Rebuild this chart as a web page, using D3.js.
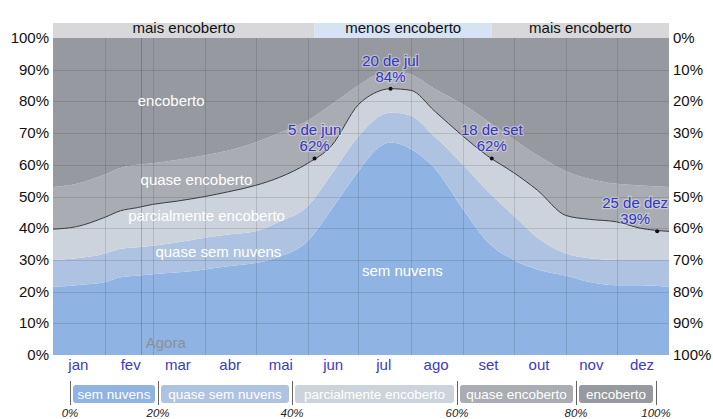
<!DOCTYPE html>
<html lang="pt">
<head>
    <meta charset="UTF-8">
    <title>Nebulosidade ao longo do ano</title>
    <script src="https://d3js.org/d3.v7.min.js"></script>
    <style>
        body { margin: 0; background: #fff; }
        svg text { font-family: "Liberation Sans", Arial, sans-serif; }
    </style>
</head>
<body>
    <div id="chart"></div>

    <script>
        // datas (ano sem bissexto)
        const dias = ["01-01", "01-15", "02-01", "02-10", "02-20", "03-01", "03-15", "04-01", "04-15",
            "05-01", "05-15", "06-01", "06-15", "07-01", "07-10", "07-20", "08-01", "08-15",
            "09-01", "09-15", "10-01", "10-15", "11-01", "11-15", "12-01", "12-15", "12-31"];

        // limites acumulados (%) de cada categoria
        const limSemNuvens      = [21.5, 22, 23, 24.5, 25, 25.5, 26, 27, 28, 29, 31, 36, 46, 58, 64, 67, 65, 59, 46, 36, 30, 27, 25, 23, 22, 22, 21.5];
        const limQuaseSemNuvens = [30, 30.5, 32, 33.5, 34, 34.5, 35.5, 37, 38, 39, 42, 47, 57, 69, 74, 76.5, 75.5, 69, 60, 52, 44, 37, 32, 30.5, 30, 30, 30];
        const limParcial        = [39.7, 40.5, 43.5, 45.5, 46.5, 47.5, 48.5, 50, 51.5, 53.5, 56, 60.5, 66, 79, 82.5, 84, 83.5, 77, 69, 63, 57.5, 52, 44, 42.8, 42, 40, 39];
        const limQuaseEncoberto = [53, 54, 57, 59, 60, 60.5, 61.5, 63, 64.5, 67, 70, 74, 79, 85, 88, 89.5, 88.5, 84, 79, 74, 68, 63, 58, 55.5, 54, 53.5, 53];

        const categorias = ["sem nuvens", "quase sem nuvens", "parcialmente encoberto", "quase encoberto", "encoberto"];
        const cores = ["#8fb3e2", "#aec3e1", "#cdd3dc", "#a9acb2", "#96999f"];
        const limitesLegenda = ["0%", "20%", "40%", "60%", "80%", "100%"];

        const meses = ["jan", "fev", "mar", "abr", "mai", "jun", "jul", "ago", "set", "out", "nov", "dez"];

        // faixa do topo: estação mais / menos encoberta
        const estacoes = [
            { nome: "mais encoberto", ini: "01-01", fim: "06-05", cor: "#d8d8da" },
            { nome: "menos encoberto", ini: "06-05", fim: "09-18", cor: "#d5e3f4" },
            { nome: "mais encoberto", ini: "09-18", fim: "12-31", cor: "#d8d8da" }
        ];

        // pontos anotados na linha preta
        const destaques = [
            { dia: "06-05", valor: 62, texto: "5 de jun", dx: 0 },
            { dia: "07-20", valor: 84, texto: "20 de jul", dx: 0 },
            { dia: "09-18", valor: 62, texto: "18 de set", dx: 0 },
            { dia: "12-25", valor: 39, texto: "25 de dez", dx: -22 }
        ];

        const agora = "02-22";

        const width = 713, height = 419;
        const esq = 53, dir = 669, topo = 38, base = 355;

        const parse = d3.timeParse("%Y-%m-%d");
        const data = s => parse("2023-" + s);

        const x = d3.scaleTime()
            .domain([data("01-01"), parse("2024-01-01")])
            .range([esq, dir]);
        const y = d3.scaleLinear().domain([0, 100]).range([base, topo]);

        const svg = d3.select("#chart").append("svg")
            .attr("width", width)
            .attr("height", height);

        // faixa superior
        const faixa = svg.append("g");
        estacoes.forEach(e => {
            const x0 = x(data(e.ini)), x1 = e.fim === "12-31" ? dir : x(data(e.fim));
            faixa.append("rect")
                .attr("x", x0).attr("y", 23)
                .attr("width", x1 - x0).attr("height", topo - 23)
                .attr("fill", e.cor);
            faixa.append("text")
                .attr("x", (x0 + x1) / 2).attr("y", 33)
                .attr("text-anchor", "middle")
                .attr("font-size", 15)
                .attr("fill", "#111")
                .text(e.nome);
        });

        // camadas empilhadas
        const pontos = dias.map((d, i) => ({
            t: d === "12-31" ? parse("2024-01-01") : data(d),
            v: [0, limSemNuvens[i], limQuaseSemNuvens[i], limParcial[i], limQuaseEncoberto[i], 100]
        }));

        const curva = d3.curveMonotoneX;
        categorias.forEach((c, k) => {
            const area = d3.area()
                .x(d => x(d.t))
                .y0(d => y(d.v[k]))
                .y1(d => y(d.v[k + 1]))
                .curve(curva);
            svg.append("path")
                .datum(pontos)
                .attr("d", area)
                .attr("fill", cores[k]);
        });

        // grade
        const grade = svg.append("g").attr("stroke", "rgba(0,0,0,0.12)").attr("stroke-width", 1);
        d3.range(10, 100, 10).forEach(p => {
            grade.append("line")
                .attr("x1", esq).attr("x2", dir)
                .attr("y1", Math.round(y(p)) + 0.5).attr("y2", Math.round(y(p)) + 0.5);
        });
        x.ticks(d3.timeMonth.every(1)).slice(1, 12).forEach(m => {
            grade.append("line")
                .attr("x1", Math.round(x(m)) + 0.5).attr("x2", Math.round(x(m)) + 0.5)
                .attr("y1", topo).attr("y2", base);
        });

        // linha "agora"
        svg.append("line")
            .attr("x1", Math.round(x(data(agora))) + 0.5).attr("x2", Math.round(x(data(agora))) + 0.5)
            .attr("y1", topo).attr("y2", base)
            .attr("stroke", "rgba(0,0,0,0.2)");
        svg.append("text")
            .attr("x", x(data(agora)) + 5).attr("y", 348)
            .attr("font-size", 15)
            .attr("fill", "#8a909a")
            .text("Agora");

        // linha preta (limite de parcialmente encoberto)
        svg.append("path")
            .datum(pontos)
            .attr("d", d3.line().x(d => x(d.t)).y(d => y(d.v[3])).curve(curva))
            .attr("fill", "none")
            .attr("stroke", "#3a3a3a")
            .attr("stroke-width", 1);

        // rótulos das camadas
        const rotulos = [
            { t: "encoberto", dia: "03-12", v: 78.5 },
            { t: "quase encoberto", dia: "03-27", v: 53.6 },
            { t: "parcialmente encoberto", dia: "04-02", v: 42.3 },
            { t: "quase sem nuvens", dia: "04-09", v: 30.9 },
            { t: "sem nuvens", dia: "07-27", v: 24.9 }
        ];
        svg.selectAll(".rotulo")
            .data(rotulos)
            .enter()
            .append("text")
            .attr("x", d => x(data(d.dia)))
            .attr("y", d => y(d.v))
            .attr("text-anchor", "middle")
            .attr("font-size", 15)
            .attr("fill", "#fff")
            .text(d => d.t);

        // destaques
        destaques.forEach(d => {
            const px = x(data(d.dia)), py = y(d.valor);
            svg.append("circle")
                .attr("cx", px).attr("cy", py).attr("r", 2)
                .attr("fill", "#111");
            [[d.texto, -23], [d.valor + "%", -7]].forEach(([txt, dy]) => {
                svg.append("text")
                    .attr("x", px + d.dx).attr("y", py + dy)
                    .attr("text-anchor", "middle")
                    .attr("font-size", 15)
                    .attr("fill", "#3535c8")
                    .attr("stroke", "rgba(255,255,255,0.35)")
                    .attr("stroke-width", 2.5)
                    .attr("paint-order", "stroke")
                    .text(txt);
            });
        });

        // eixos
        const eixos = svg.append("g");
        d3.range(0, 101, 10).forEach(p => {
            eixos.append("text")
                .attr("x", 49).attr("y", y(p) + 5)
                .attr("text-anchor", "end")
                .attr("font-size", 15)
                .attr("fill", "#111")
                .text(p + "%");
            eixos.append("text")
                .attr("x", 673).attr("y", y(p) + 5)
                .attr("font-size", 15)
                .attr("fill", "#111")
                .text((100 - p) + "%");
        });

        svg.selectAll(".mes")
            .data(meses)
            .enter()
            .append("text")
            .attr("x", (d, i) => x(d3.timeDay.offset(new Date(2023, i, 1), 15)))
            .attr("y", 370)
            .attr("text-anchor", "middle")
            .attr("font-size", 15)
            .attr("fill", "#3b3bc6")
            .text(d => d);

        // legenda
        const sep = [70, 158, 292, 457, 576, 656];
        const leg = svg.append("g");
        categorias.forEach((c, k) => {
            leg.append("rect")
                .attr("x", sep[k] + 3).attr("y", 385)
                .attr("width", sep[k + 1] - sep[k] - 6).attr("height", 18)
                .attr("rx", 3)
                .attr("fill", cores[k]);
            leg.append("text")
                .attr("x", (sep[k] + sep[k + 1]) / 2).attr("y", 399)
                .attr("text-anchor", "middle")
                .attr("font-size", 13.5)
                .attr("fill", "#fff")
                .text(c);
        });
        sep.forEach((s, i) => {
            leg.append("line")
                .attr("x1", s + 0.5).attr("x2", s + 0.5)
                .attr("y1", 381).attr("y2", 405)
                .attr("stroke", "#666");
            leg.append("text")
                .attr("x", s).attr("y", 417)
                .attr("text-anchor", "middle")
                .attr("font-size", 11.5)
                .attr("font-style", "italic")
                .attr("fill", "#222")
                .text(limitesLegenda[i]);
        });
    </script>
</body>
</html>
